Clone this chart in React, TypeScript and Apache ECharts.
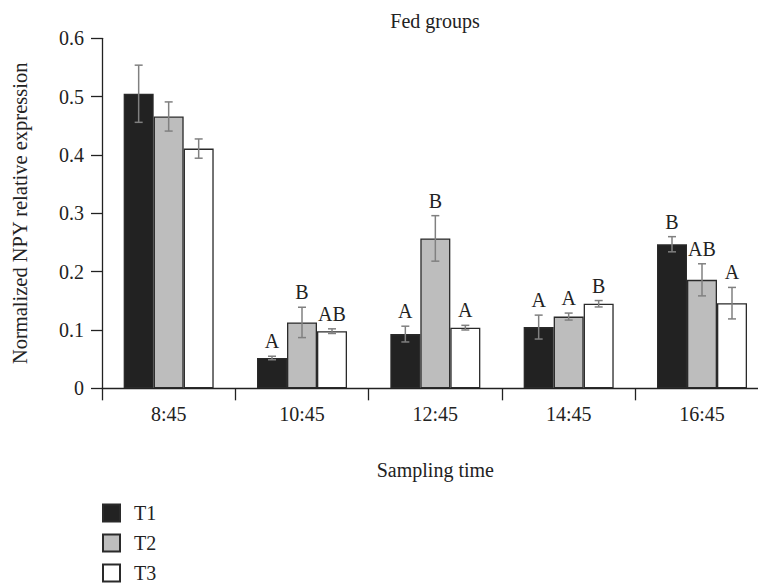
import React, { useEffect, useRef } from "react";
import * as echarts from "echarts";

const categories = ["8:45", "10:45", "12:45", "14:45", "16:45"];
const seriesNames = ["T1", "T2", "T3"];
const t1Values = [0.505, 0.052, 0.093, 0.105, 0.247];
const t2Values = [0.466, 0.113, 0.257, 0.123, 0.186];
const t3Values = [0.411, 0.098, 0.104, 0.145, 0.146];
const t1Err = [0.049, 0.003, 0.0135, 0.0205, 0.013];
const t2Err = [0.025, 0.026, 0.039, 0.006, 0.0275];
const t3Err = [0.0165, 0.004, 0.004, 0.0055, 0.027];
const t1Letters = ["", "A", "A", "A", "B"];
const t2Letters = ["", "B", "B", "A", "AB"];
const t3Letters = ["", "AB", "A", "B", "A"];

const FONT = "Liberation Serif";
const fills = ["#222222", "#bdbdbd", "#ffffff"];
const BAR_W = 30;

export default function App() {
  const ref = useRef<HTMLDivElement>(null);
  useEffect(() => {
    document.body.style.margin = "0";
    const chart = echarts.init(ref.current!, null, { renderer: "svg" });
    const values = [t1Values, t2Values, t3Values];
    const errs = [t1Err, t2Err, t3Err];
    const letters = [t1Letters, t2Letters, t3Letters];
    const errData: any[] = [];
    values.forEach((vals, s) => {
      vals.forEach((v, c) => {
        errData.push([c, s, v - errs[s][c], v + errs[s][c], letters[s][c]]);
      });
    });
    const option: any = {
      animation: false,
      textStyle: { fontFamily: FONT },
      graphic: [
        {
          type: "text",
          x: 435,
          y: 21,
          style: {
            text: "Fed groups",
            fontSize: 20,
            fontFamily: FONT,
            fill: "#222",
            textAlign: "center",
            textVerticalAlign: "middle",
          },
        },
      ],
      grid: { left: 102, top: 38.33, width: 666.67, height: 350, outerBoundsMode: "none", containLabel: false },
      legend: {
        orient: "vertical",
        left: 102,
        bottom: 1,
        padding: 0,
        itemWidth: 17,
        itemHeight: 17,
        itemGap: 10,
        icon: "rect",
        data: seriesNames,
        textStyle: { fontSize: 20, lineHeight: 17, color: "#222", fontFamily: FONT, padding: [0, 0, 0, 9] },
      },
      xAxis: {
        type: "category",
        data: categories,
        name: "Sampling time",
        nameLocation: "middle",
        nameGap: 72,
        nameTextStyle: { fontSize: 20, color: "#222", fontFamily: FONT },
        axisLine: { show: true, lineStyle: { color: "#222", width: 1.3 } },
        axisTick: { show: true, length: 12, lineStyle: { color: "#222", width: 1.3 } },
        axisLabel: { fontSize: 20, color: "#222", margin: 16, fontFamily: FONT },
        splitLine: { show: false },
      },
      yAxis: {
        type: "value",
        min: 0,
        max: 0.6,
        interval: 0.1,
        name: "Normalized NPY relative expression",
        nameLocation: "middle",
        nameGap: 72,
        nameTextStyle: { fontSize: 20.5, color: "#222", fontFamily: FONT },
        axisLine: { show: true, lineStyle: { color: "#222", width: 1.3 } },
        axisTick: { show: true, length: 11, lineStyle: { color: "#222", width: 1.3 } },
        axisLabel: {
          fontSize: 20,
          color: "#222",
          margin: 18,
          fontFamily: FONT,
          formatter: (v: number) => (v === 0 ? "0" : v.toFixed(1)),
        },
        splitLine: { show: false },
      },
      series: [
        ...values.map((vals, s) => ({
          type: "bar",
          name: seriesNames[s],
          data: vals,
          barWidth: BAR_W,
          barGap: "0%",
          itemStyle: { color: fills[s], borderColor: "#2a2a2a", borderWidth: 1.3 },
          z: 2,
        })),
        {
          type: "custom",
          name: "err",
          data: errData,
          encode: { x: 0, y: [2, 3] },
          z: 5,
          renderItem: (params: any, api: any) => {
            const c = api.value(0);
            const s = api.value(1);
            const lo = api.value(2);
            const hi = api.value(3);
            const letter = errData[params.dataIndex][4];
            const base = api.coord([c, lo]);
            const top = api.coord([c, hi]);
            const x = base[0] + (s - 1) * BAR_W;
            const cap = 4;
            const st = { stroke: "#808080", lineWidth: 1.5 };
            const children: any[] = [
              { type: "line", shape: { x1: x, y1: top[1], x2: x, y2: base[1] }, style: st },
              { type: "line", shape: { x1: x - cap, y1: top[1], x2: x + cap, y2: top[1] }, style: st },
              { type: "line", shape: { x1: x - cap, y1: base[1], x2: x + cap, y2: base[1] }, style: st },
            ];
            if (letter) {
              children.push({
                type: "text",
                x: x,
                y: top[1] - 5,
                style: {
                  text: letter,
                  fontSize: 20,
                  fontFamily: FONT,
                  fill: "#222",
                  textAlign: "center",
                  textVerticalAlign: "bottom",
                },
              });
            }
            return { type: "group", children };
          },
        },
      ],
    };
    chart.setOption(option);
    return () => chart.dispose();
  }, []);
  return <div ref={ref} style={{ width: 758, height: 584 }} />;
}
